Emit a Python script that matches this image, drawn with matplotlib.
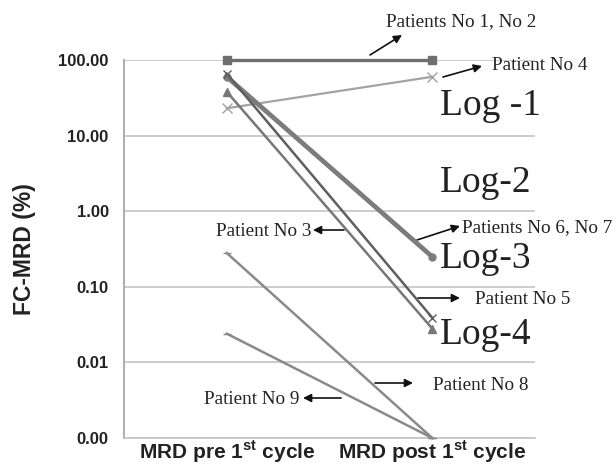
import matplotlib.pyplot as plt
import numpy as np

plt.rcParams["font.family"] = ["Liberation Sans", "DejaVu Sans"]

# MRD values (%) before and after the 1st cycle
categories = ["MRD pre 1$^{\\mathregular{st}}$ cycle", "MRD post 1$^{\\mathregular{st}}$ cycle"]
p1_2 = [100.0, 100.0]
p4 = [23.0, 60.0]
p5 = [66.0, 0.039]
p6_7 = [60.0, 0.25]
p3 = [38.0, 0.028]
p8 = [0.28, 0.001]
p9 = [0.024, 0.001]
ytick_vals = [0.001, 0.01, 0.1, 1, 10, 100]
ytick_labels = ["0.00", "0.01", "0.10", "1.00", "10.00", "100.00"]

W, H = 616, 465


def fig_xy(px, py):
    # pixel position in the picture -> figure fraction
    return (px / W, 1 - py / H)


fig = plt.figure(figsize=(W / 100, H / 100), dpi=100)
ax = fig.add_axes([124 / W, 1 - 438 / H, (535 - 124) / W, (438 - 60) / H])

x = np.arange(len(categories))
ax.plot(x, p1_2, color="#6e6e6e", lw=2.4, marker="s", ms=6, zorder=5, clip_on=False)
ax.plot(x, p4, color="#a3a3a3", lw=1.6, marker="x", ms=7, mew=1.0, zorder=4)
ax.plot(x, p6_7, color="#7c7c7c", lw=3.4, marker="o", ms=5, zorder=4)
ax.plot(x, p5, color="#5f5f5f", lw=1.8, marker="x", ms=6, mew=1.0, zorder=4)
ax.plot(x, p3, color="#777777", lw=1.8, marker="^", ms=6, zorder=4)
ax.plot(x, p8, color="#8a8a8a", lw=1.8, marker="_", ms=6, zorder=3, clip_on=False)
ax.plot(x, p9, color="#8a8a8a", lw=1.8, marker="_", ms=6, zorder=3, clip_on=False)

ax.set_yscale("log")
ax.set_ylim(0.001, 100)
ax.set_xlim(-0.5, 1.5)
ax.set_yticks(ytick_vals)
ax.set_yticklabels(ytick_labels)
ax.minorticks_off()
ax.set_xticks(x)
ax.set_xticklabels(categories)
ax.tick_params(axis="y", length=0, pad=11, labelsize=12, labelcolor="#222222")
ax.tick_params(axis="x", length=0, pad=0.5, labelsize=15, labelcolor="#222222")
for lab in ax.get_yticklabels() + ax.get_xticklabels():
    lab.set_fontweight("bold")
ax.grid(axis="y", color="#c4c4c4", lw=1.2)
ax.set_axisbelow(True)
for s in ["top", "right"]:
    ax.spines[s].set_visible(False)
ax.spines["left"].set_color("#b0b0b0")
ax.spines["left"].set_linewidth(1.5)
ax.spines["bottom"].set_color("#c4c4c4")
ax.spines["bottom"].set_linewidth(1.2)
ax.set_ylabel("FC-MRD (%)", fontsize=16.5, fontweight="bold", color="#222222")
ax.yaxis.set_label_coords(-0.215, 0.5)

serif = "Liberation Serif"
txt_kw = dict(family=serif, fontsize=13.8, color="#222222", va="center")

# log level labels
for lbl, py in [("Log -1", 106), ("Log-2", 183), ("Log-3", 259), ("Log-4", 335)]:
    fig.text(*fig_xy(440, py), lbl, family=serif, fontsize=27, color="#222222", va="center")

# patient labels
notes = [
    ("Patients No 1, No 2", 386, 22, "left"),
    ("Patient No 4", 492, 65, "left"),
    ("Patients No 6, No 7", 462, 228, "left"),
    ("Patient No 5", 475, 299, "left"),
    ("Patient No 8", 433, 385, "left"),
    ("Patient No 3", 311, 231, "right"),
    ("Patient No 9", 299, 399, "right"),
]
for t, px, py, ha in notes:
    fig.text(*fig_xy(px, py), t, ha=ha, **txt_kw)

arrows = [
    ((370, 55), (402, 35)),
    ((443, 77), (482, 66)),
    ((417, 240), (460, 226)),
    ((418, 298), (460, 298)),
    ((375, 383), (413, 383)),
    ((344, 230), (313, 230)),
    ((341, 398), (303, 398)),
]
for tail, head in arrows:
    ax.annotate("", xy=fig_xy(*head), xycoords="figure fraction",
                xytext=fig_xy(*tail), textcoords="figure fraction",
                arrowprops=dict(arrowstyle="-|>", color="#111111", lw=1.2,
                                mutation_scale=12, shrinkA=0, shrinkB=0),
                annotation_clip=False)

fig.savefig("out.png", dpi=100, facecolor="white")
